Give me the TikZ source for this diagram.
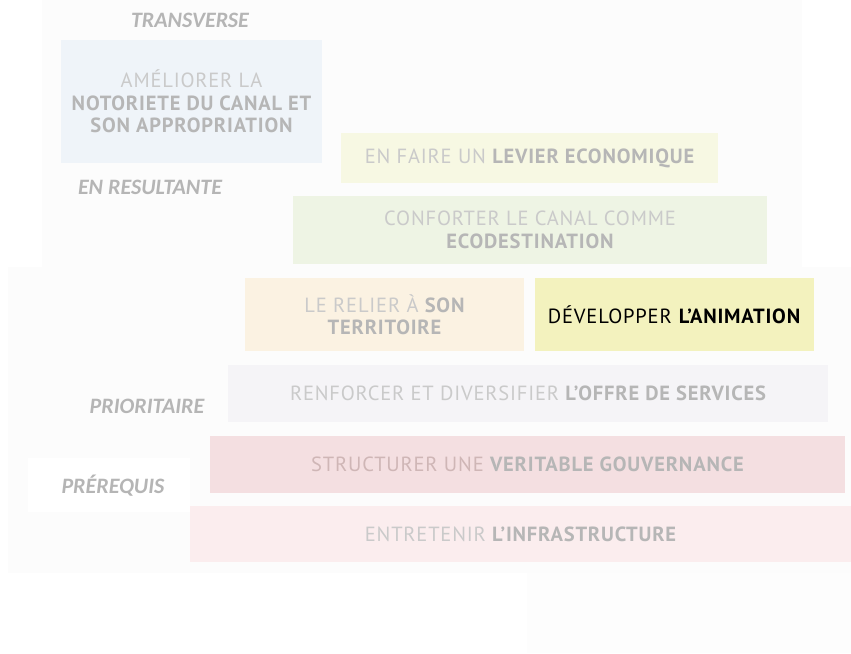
\documentclass[tikz,border=0pt]{standalone}
\usepackage{fontspec}
\setmainfont{PT Sans}[LetterSpace=4]
\newfontfamily\lblfont{Carlito}
\usetikzlibrary{positioning}
\definecolor{txtreg}{HTML}{CACACA}
\definecolor{txtbold}{HTML}{B6B6B6}
\definecolor{lbl}{HTML}{B5B5B5}
\definecolor{bgfaint}{HTML}{FCFCFC}
\definecolor{bgfaint2}{HTML}{FDFDFD}
\definecolor{cBlue}{HTML}{EFF4F9}
\definecolor{cYel}{HTML}{F7F8E3}
\definecolor{cGreen}{HTML}{EEF4E4}
\definecolor{cPeach}{HTML}{FBF2E2}
\definecolor{cDev}{HTML}{F3F2BE}
\definecolor{cLav}{HTML}{F5F4F7}
\definecolor{cPink}{HTML}{F4DFE1}
\definecolor{cRose}{HTML}{FBEDEE}
\tikzset{
  box/.style={rectangle, inner sep=0pt, align=center, font=\fontsize{20.5}{23.5}\selectfont, text=txtreg},
  lvl/.style={font=\lblfont\bfseries\itshape\fontsize{22}{24}\selectfont, text=lbl, inner sep=0pt},
}
\newcommand{\bd}[1]{{\bfseries\color{txtbold}#1}}
\begin{document}
\begin{tikzpicture}[x=1pt,y=-1pt]
\useasboundingbox (0,0) rectangle (851,653);
\fill[white] (0,0) rectangle (851,653);
% faint backgrounds
\fill[bgfaint] (42,0) rectangle (802,267);
\fill[bgfaint] (8,267) rectangle (851,573);
\fill[bgfaint2] (527,573) rectangle (851,653);
\fill[white] (28,458) rectangle (190,512);
% boxes
\node[box, fill=cBlue, minimum width=261pt, minimum height=123pt] (amel) at (191.5,101.5)
  {AMÉLIORER LA\\[-1pt]\bd{NOTORIETE DU CANAL ET}\\[-1pt]\bd{SON APPROPRIATION}};
\node[box, fill=cYel, minimum width=377pt, minimum height=50pt] (faire) at (529.5,158)
  {EN FAIRE UN \bd{LEVIER ECONOMIQUE}};
\node[box, fill=cGreen, minimum width=474pt, minimum height=68pt] (conf) at (530,230)
  {CONFORTER LE CANAL COMME\\[-1pt]\bd{ECODESTINATION}};
\node[box, fill=cPeach, minimum width=279pt, minimum height=73pt] (relier) at (384.5,314.5)
  {LE RELIER À \bd{SON}\\[-1pt]\bd{TERRITOIRE}};
\node[box, fill=cDev, minimum width=279pt, minimum height=73pt, text=black] (devel) at (674.5,314.5)
  {DÉVELOPPER \textbf{L’ANIMATION}};
\node[box, fill=cLav, minimum width=600pt, minimum height=57pt] (renf) at (528,393.5)
  {RENFORCER ET DIVERSIFIER \bd{L’OFFRE DE SERVICES}};
\node[box, fill=cPink, minimum width=635pt, minimum height=57pt, text=txtreg!90!red] (struct) at (527.5,464.5)
  {STRUCTURER UNE \bd{VERITABLE GOUVERNANCE}};
\node[box, fill=cRose, minimum width=661pt, minimum height=56pt] (entr) at (520.5,534)
  {ENTRETENIR \bd{L’INFRASTRUCTURE}};
% level labels
\node[lvl] (ltrans) at (190,20) {TRANSVERSE};
\node[lvl] (lres) at (150,187) {EN RESULTANTE};
\node[lvl] (lprio) at (147,406) {PRIORITAIRE};
\node[lvl] (lpre) at (113,486) {PRÉREQUIS};
\end{tikzpicture}
\end{document}
